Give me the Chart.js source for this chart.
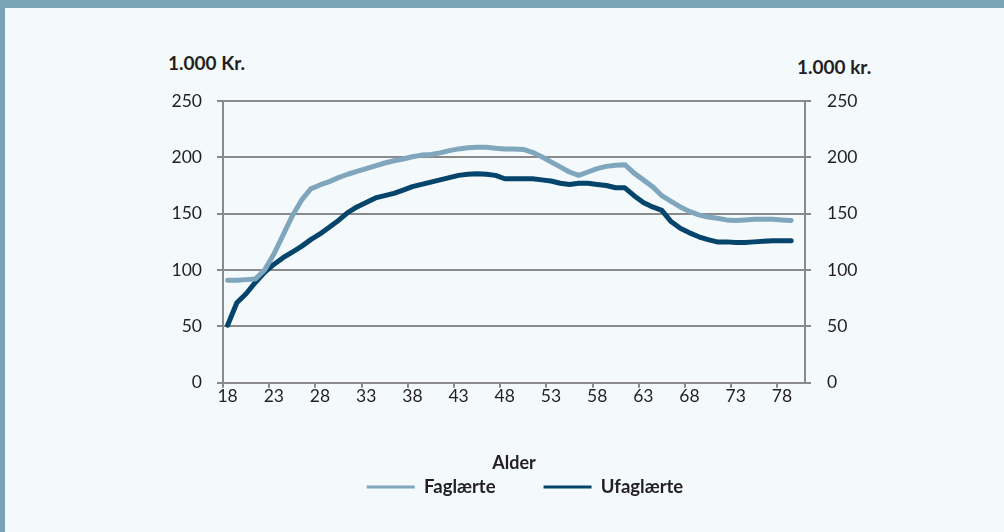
<!DOCTYPE html>
<html>
<head>
<meta charset="utf-8">
<script src="https://cdn.jsdelivr.net/npm/chart.js@4.4.0/dist/chart.umd.min.js"></script>
<style>
  html, body { margin: 0; padding: 0; }
  body { width: 1004px; height: 532px; background: #f4f9fc; position: relative; overflow: hidden; font-family: Lato, sans-serif; }
  #topbar { position: absolute; left: 0; top: 0; width: 1004px; height: 8px; background: #7ba3b8; }
  #leftbar { position: absolute; left: 0; top: 0; width: 5px; height: 532px; background: #7ba3b8; }
  .unit { position: absolute; font-weight: bold; font-size: 19px; line-height: 22px; color: #231f20; white-space: nowrap; }
  #wrap { position: absolute; left: 0; top: 0; width: 1004px; height: 532px; }
</style>
</head>
<body>
<div id="topbar"></div>
<div id="leftbar"></div>
<div class="unit" style="left:168px; top:52px;">1.000 Kr.</div>
<div class="unit" style="left:797px; top:56px;">1.000 kr.</div>
<div id="wrap"><canvas id="chart"></canvas></div>
<script>
// alder 18-80 (kategorier)
const ages = ['18','19','20','21','22','23','24','25','26','27','28','29','30','31','32','33','34','35','36','37',
  '38','39','40','41','42','43','44','45','46','47','48','49','50','51','52','53','54','55','56','57',
  '58','59','60','61','62','63','64','65','66','67','68','69','70','71','72','73','74','75','76','77',
  '78','79','80'];

// 1.000 kr., alder 18-79
const faglaerte = [91, 91, 91.5, 92, 100, 114, 131, 148, 162, 172,
  175.5, 178.5, 182, 185, 187.5, 190, 192.5, 195, 197, 198.5,
  200.5, 202, 202.5, 204, 206, 207.5, 208.5, 209, 209, 208,
  207.5, 207.5, 207, 204.5, 200.5, 196, 191.5, 187, 184, 187,
  190, 192, 193, 193.5, 186, 180, 174, 166, 161, 156,
  152, 149, 147, 146, 144.5, 144, 144.5, 145, 145, 145,
  144.5, 144];

const ufaglaerte = [51, 71, 79, 89, 98, 105, 111, 116, 121, 127,
  132, 138, 144, 151, 156, 160, 164, 166, 168, 171,
  174, 176, 178, 180, 182, 184, 185, 185.5, 185, 184,
  181, 181, 181, 181, 180, 179, 177, 176, 177, 177,
  176, 175, 173, 173, 166, 160, 156, 153, 143, 137,
  133, 129.5, 127, 125, 125, 124.5, 124.5, 125, 125.5, 126,
  126, 126];

const yTicks = [0, 50, 100, 150, 200, 250];

const gridCol = '#8a8a8a';
const textCol = '#231f20';

new Chart(document.getElementById('chart'), {
  type: 'line',
  data: {
    labels: ages,
    datasets: [
      { label: 'Faglærte', data: faglaerte, borderColor: '#7fa6bd', backgroundColor: '#7fa6bd',
        borderWidth: 5, pointRadius: 0, tension: 0, borderCapStyle: 'round', borderJoinStyle: 'round', yAxisID: 'y' },
      { label: 'Ufaglærte', data: ufaglaerte, borderColor: '#05446b', backgroundColor: '#05446b',
        borderWidth: 5, pointRadius: 0, tension: 0, borderCapStyle: 'round', borderJoinStyle: 'round', yAxisID: 'y' }
    ]
  },
  options: {
    responsive: true,
    maintainAspectRatio: false,
    animation: false,
    layout: { padding: { top: 101, bottom: 25.75, left: 46, right: 0 } },
    plugins: {
      tooltip: { enabled: false },
      legend: {
        position: 'bottom',
        labels: {
          boxWidth: 48,
          boxHeight: 3,
          padding: 48,
          color: textCol,
          font: { family: 'Lato', size: 18.5, weight: 'bold' },
          generateLabels: chart => Chart.defaults.plugins.legend.labels.generateLabels(chart)
            .map(l => ({ ...l, lineWidth: 0, fillStyle: l.strokeStyle }))
        }
      }
    },
    scales: {
      x: {
        offset: true,
        afterFit: s => { s.height = 47; },
        grid: {
          offset: true,
          drawOnChartArea: false,
          tickLength: 5,
          lineWidth: 2,
          tickColor: c => (c.index % 5 === 0 ? gridCol : 'transparent')
        },
        border: { display: true, color: gridCol, width: 2 },
        ticks: {
          autoSkip: false,
          maxRotation: 0,
          padding: -2,
          color: textCol,
          font: { family: 'Lato', size: 17.5 },
          callback: (v, i) => (i % 5 === 0 ? ages[i] : '')
        },
        title: {
          display: true,
          text: 'Alder',
          color: textCol,
          font: { family: 'Lato', size: 18, weight: 'bold' },
          padding: { top: 0, bottom: -44 }
        }
      },
      y: {
        position: 'left',
        min: 0, max: 250,
        afterFit: s => { s.width = 177; },
        afterBuildTicks: s => { s.ticks = yTicks.map(v => ({ value: v })); },
        grid: { color: gridCol, lineWidth: 2, tickLength: 6 },
        border: { display: true, color: gridCol, width: 2 },
        ticks: { padding: 15, color: textCol, font: { family: 'Lato', size: 17.5 } }
      },
      y2: {
        position: 'right',
        min: 0, max: 250,
        afterFit: s => { s.width = 199; },
        afterBuildTicks: s => { s.ticks = yTicks.map(v => ({ value: v })); },
        grid: { drawOnChartArea: false, color: gridCol, lineWidth: 2, tickLength: 6 },
        border: { display: true, color: gridCol, width: 2 },
        ticks: { padding: 16, color: textCol, font: { family: 'Lato', size: 17.5 } }
      }
    }
  }
});
</script>
</body>
</html>
